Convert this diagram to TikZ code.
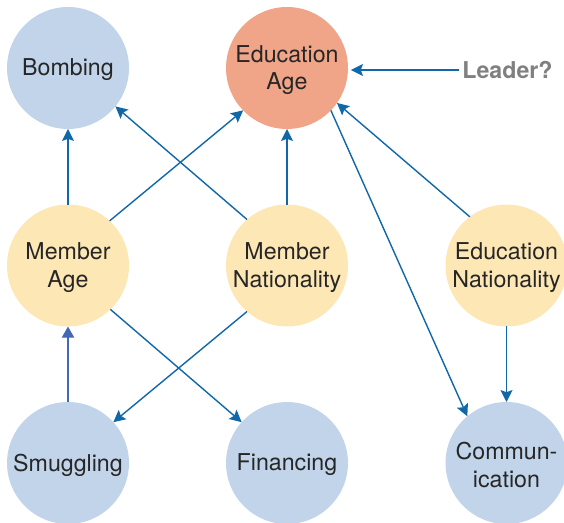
\documentclass[tikz,border=0pt]{standalone}
\usepackage{fontspec}
\setmainfont{TeX Gyre Heros}
\usetikzlibrary{arrows.meta,shapes.geometric}

\definecolor{nodeblue}{RGB}{193,212,234}
\definecolor{nodeorange}{RGB}{240,165,136}
\definecolor{nodeyellow}{RGB}{253,231,181}
\definecolor{arrowblue}{RGB}{16,104,168}
\definecolor{arrowviolet}{RGB}{66,104,182}
\definecolor{leadergray}{RGB}{128,128,128}

\begin{document}
\begin{tikzpicture}[y=-0.02cm,x=0.02cm,
	txt/.style={align=center, font=\fontsize{13.2}{15.6}\selectfont, text=black!85, inner sep=0pt},
	var/.style={circle, minimum size=2.44cm, inner sep=0pt, outer sep=0pt,
		label={[txt, yshift=-1.1pt]center:#1}},
	outcome/.style={var={#1}, fill=nodeblue},
	target/.style={var={#1}, fill=nodeorange},
	cause/.style={var={#1}, fill=nodeyellow},
	arr/.style={draw=arrowblue, line width=0.8pt, -{Stealth[length=6.8pt,width=6.8pt,inset=1.2pt]}, arrowblue}]
	\useasboundingbox (0,0) rectangle (564,523);

	% top row
	\node[outcome={Bombing}] (bomb) at (68,68) {};
	\node[target={Education\\Age}] (eage) at (287,68) {};
	\node[txt, font=\fontsize{13.2}{15.6}\selectfont\bfseries, text=leadergray] (leader) at (507.5,70) {Leader?};

	% middle row
	\node[cause={Member\\Age}] (mage) at (68,265.5) {};
	\node[cause={Member\\Nationality}] (mnat) at (287,265.5) {};
	\node[cause={Education\\Nationality}] (enat) at (506.5,265.5) {};

	% bottom row
	\node[outcome={Smuggling}] (smug) at (68,463) {};
	\node[outcome={Financing}] (fin) at (287,463) {};
	\node[outcome={Commun-\\ication}] (comm) at (506.5,463) {};

	\draw[arr, shorten <=1.7pt, shorten >=1.7pt] (leader.west) -- (leader.west -| eage.east);
	\draw[arr] (mage) -- (bomb);
	\draw[arr] (mage.47) -- (eage.224);
	\draw[arr] (mnat.131) -- (bomb.-39);
	\draw[arr] (mnat) -- (eage);
	\draw[arr] (enat.127) -- (eage.-35);
	\draw[arr] (eage.-44) -- (comm.130);
	\draw[arr] (enat) -- (comm);
	\draw[arr] (mage.-46) -- (fin.138);
	\draw[arr] (mnat.-131) -- (smug.42);
	\draw[draw=arrowviolet, line width=0.8pt, -{Triangle[length=6.4pt,width=7pt]}, arrowviolet] (smug) -- (mage);

\end{tikzpicture}
\end{document}
